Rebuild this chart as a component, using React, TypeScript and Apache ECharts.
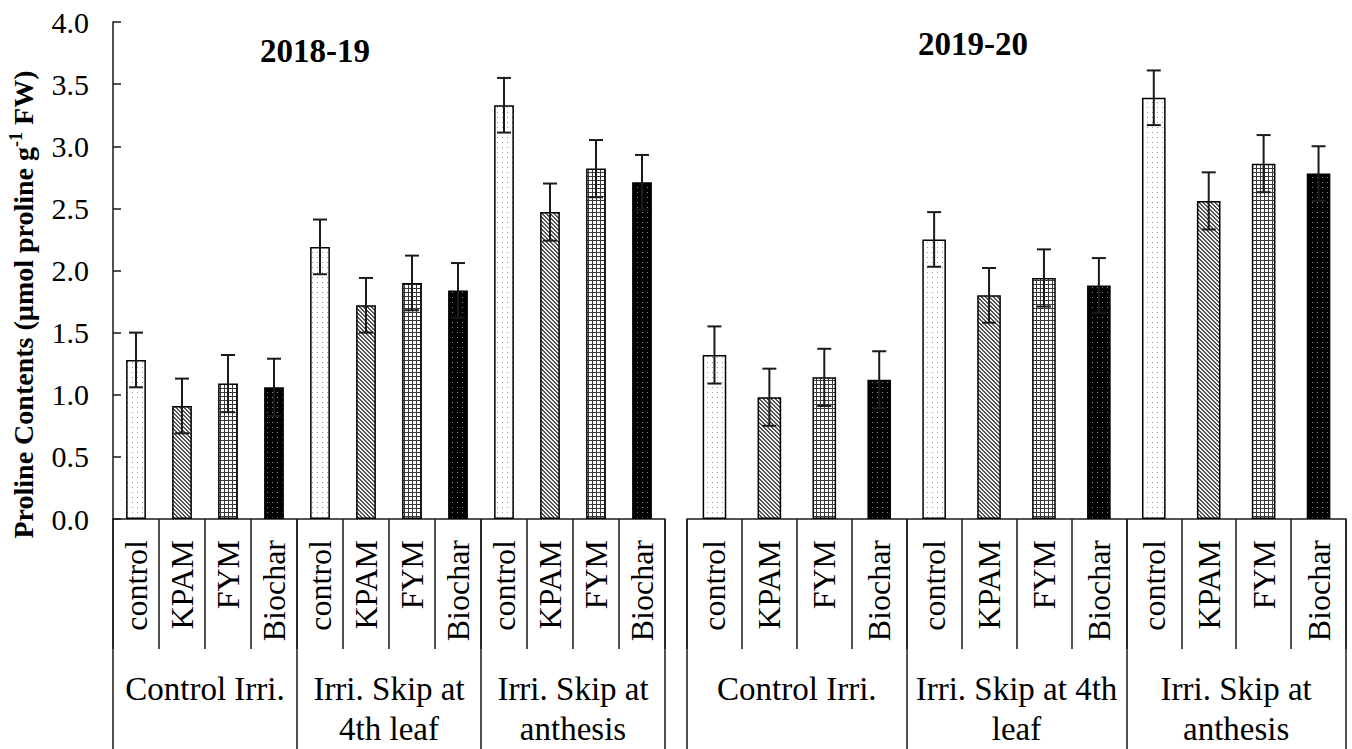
import React, { useEffect, useRef } from "react";
import * as echarts from "echarts";

const treatments = ["control", "KPAM", "FYM", "Biochar"];
const groups2018 = ["Control Irri.", "Irri. Skip at\n4th leaf", "Irri. Skip at\nanthesis"];
const groups2019 = ["Control Irri.", "Irri. Skip at 4th\nleaf", "Irri. Skip at\nanthesis"];
const values2018 = [1.28, 0.91, 1.09, 1.06, 2.19, 1.72, 1.9, 1.84, 3.33, 2.47, 2.82, 2.71];
const errors2018 = [0.22, 0.22, 0.23, 0.23, 0.22, 0.22, 0.22, 0.22, 0.22, 0.23, 0.23, 0.22];
const values2019 = [1.32, 0.98, 1.14, 1.12, 2.25, 1.8, 1.94, 1.88, 3.39, 2.56, 2.86, 2.78];
const errors2019 = [0.23, 0.23, 0.23, 0.23, 0.22, 0.22, 0.23, 0.22, 0.22, 0.23, 0.23, 0.22];
const panelTitles = ["2018-19", "2019-20"];
const yTitle = "Proline Contents (µmol proline g";

const FONT = "'Liberation Serif', 'Times New Roman', serif";
const LINE = "#1a1a1a";

function makePattern(kind: string) {
  const size = kind === "dots" || kind === "black" ? 5 : 4;
  const c = document.createElement("canvas");
  c.width = size;
  c.height = size;
  const g = c.getContext("2d")!;
  if (kind === "dots") {
    g.fillStyle = "#ffffff";
    g.fillRect(0, 0, size, size);
    g.fillStyle = "#9a9a9a";
    g.fillRect(2, 2, 1, 1);
  } else if (kind === "hatch") {
    g.fillStyle = "#f2f2f2";
    g.fillRect(0, 0, size, size);
    g.fillStyle = "#555555";
    for (let i = 0; i < size; i++) {
      g.fillRect(i, i, 1, 1);
      g.fillRect((i + 1) % size, i, 1, 1);
    }
  } else if (kind === "grid") {
    g.fillStyle = "#ffffff";
    g.fillRect(0, 0, size, size);
    g.fillStyle = "#3a3a3a";
    g.fillRect(0, 0, size, 1);
    g.fillRect(0, 0, 1, size);
  } else {
    g.fillStyle = "#000000";
    g.fillRect(0, 0, size, size);
    g.fillStyle = "#8a8a8a";
    g.fillRect(2, 2, 1, 1);
  }
  return { image: c, repeat: "repeat", imageWidth: size, imageHeight: size } as any;
}

export default function App() {
  const ref = useRef<HTMLDivElement>(null);
  useEffect(() => {
    const chart = echarts.init(ref.current!, null, { renderer: "svg" });
    const patterns = ["dots", "hatch", "grid", "black"].map(makePattern);
    const itemLabels = [...treatments, ...treatments, ...treatments];

    const barData = (vals: number[]) =>
      vals.map((v, i) => ({
        value: v,
        itemStyle: { color: patterns[i % 4], borderColor: "#000", borderWidth: 1.5 },
      }));
    const errData = (vals: number[], errs: number[]) => vals.map((v, i) => [i, v, errs[i]]);

    const renderErr = (params: any, api: any) => {
      const x = api.value(0);
      const v = api.value(1);
      const e = api.value(2);
      const top = api.coord([x, v + e]);
      const bot = api.coord([x, v - e]);
      const hw = 7;
      const st = { stroke: LINE, lineWidth: 2 };
      return {
        type: "group",
        children: [
          { type: "line", shape: { x1: top[0], y1: top[1], x2: bot[0], y2: bot[1] }, style: st },
          { type: "line", shape: { x1: top[0] - hw, y1: top[1], x2: top[0] + hw, y2: top[1] }, style: st },
          { type: "line", shape: { x1: bot[0] - hw, y1: bot[1], x2: bot[0] + hw, y2: bot[1] }, style: st },
        ],
      };
    };

    const itemAxis = (gridIndex: number) => ({
      type: "category",
      gridIndex,
      position: "bottom",
      data: itemLabels,
      axisLine: { show: true, lineStyle: { color: LINE, width: 1.5 } },
      axisTick: { show: true, length: 130, interval: 0, lineStyle: { color: LINE, width: 1.5 } },
      axisLabel: {
        interval: 0,
        rotate: 90,
        margin: 21,
        fontSize: 32,
        fontFamily: FONT,
        color: "#000",
      },
    });
    const groupAxis = (gridIndex: number, data: string[]) => ({
      type: "category",
      gridIndex,
      position: "bottom",
      data,
      axisLine: { show: false },
      axisTick: { show: true, length: 232, interval: 0, lineStyle: { color: LINE, width: 1.5 } },
      axisLabel: {
        interval: 0,
        margin: 150,
        fontSize: 33,
        lineHeight: 40,
        fontFamily: FONT,
        color: "#000",
        align: "center",
      },
    });

    chart.setOption({
      animation: false,
      backgroundColor: "#ffffff",
      grid: [
        { left: 113, top: 22, width: 552, height: 498, containLabel: false },
        { left: 687, top: 22, width: 659, height: 498, containLabel: false },
      ],
      xAxis: [itemAxis(0), groupAxis(0, groups2018), itemAxis(1), groupAxis(1, groups2019)],
      yAxis: [
        {
          type: "value",
          gridIndex: 0,
          min: 0,
          max: 4,
          interval: 0.5,
          splitLine: { show: false },
          axisLine: { show: true, lineStyle: { color: LINE, width: 1.5 } },
          axisTick: { show: true, inside: true, length: 8, lineStyle: { color: LINE, width: 1.5 } },
          axisLabel: {
            margin: 24,
            fontSize: 30,
            fontFamily: FONT,
            color: "#000",
            formatter: (v: number) => v.toFixed(1),
          },
          name: "{a|" + yTitle + "}{s|-1}{a| FW)}",
          nameLocation: "middle",
          nameRotate: 90,
          nameGap: 74,
          nameTextStyle: {
            padding: [0, 68, 0, 0],
            rich: {
              a: { fontSize: 28, fontWeight: "bold", fontFamily: FONT, color: "#000", lineHeight: 32 },
              s: { fontSize: 18, fontWeight: "bold", fontFamily: FONT, color: "#000", verticalAlign: "top", lineHeight: 32 },
            },
          },
        },
        {
          type: "value",
          gridIndex: 1,
          min: 0,
          max: 4,
          interval: 0.5,
          show: false,
          splitLine: { show: false },
        },
      ],
      graphic: [
        {
          type: "text",
          x: 315,
          y: 51,
          style: {
            text: panelTitles[0],
            font: "bold 33px " + FONT,
            fill: "#000",
            textAlign: "center",
            textVerticalAlign: "middle",
          },
        },
        {
          type: "text",
          x: 973,
          y: 44,
          style: {
            text: panelTitles[1],
            font: "bold 33px " + FONT,
            fill: "#000",
            textAlign: "center",
            textVerticalAlign: "middle",
          },
        },
      ],
      series: [
        { type: "bar", xAxisIndex: 0, yAxisIndex: 0, barWidth: "43%", data: barData(values2018) },
        { type: "bar", xAxisIndex: 2, yAxisIndex: 1, barWidth: "43%", data: barData(values2019) },
        {
          type: "custom",
          xAxisIndex: 0,
          yAxisIndex: 0,
          z: 5,
          renderItem: renderErr,
          data: errData(values2018, errors2018),
        },
        {
          type: "custom",
          xAxisIndex: 2,
          yAxisIndex: 1,
          z: 5,
          renderItem: renderErr,
          data: errData(values2019, errors2019),
        },
      ],
    });
    return () => chart.dispose();
  }, []);
  return (
    <div
      ref={ref}
      style={{ position: "fixed", left: 0, top: 0, width: 1352, height: 749, background: "#fff" }}
    />
  );
}
